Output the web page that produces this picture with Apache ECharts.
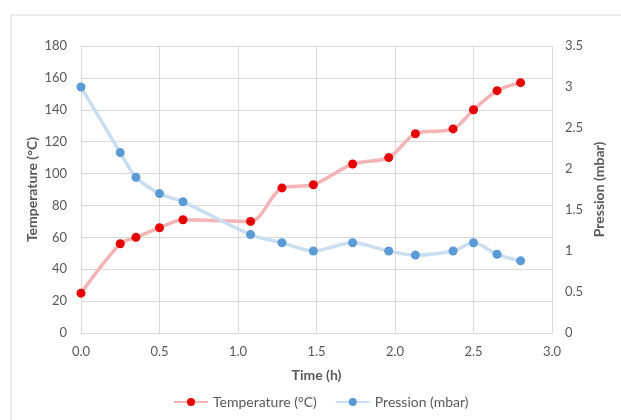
<!DOCTYPE html>
<html>
<head>
<meta charset="utf-8">
<script src="https://cdn.jsdelivr.net/npm/echarts@6/dist/echarts.min.js"></script>
<style>html,body{margin:0;padding:0;background:#fff}#c{width:621px;height:420px}</style>
</head>
<body>
<div id="c"></div>
<script>
const times = [0, 0.25, 0.35, 0.5, 0.65, 1.08, 1.28, 1.48, 1.73, 1.96, 2.13, 2.37, 2.5, 2.65, 2.8];
const temperature = [25, 56, 60, 66, 71, 70, 91, 93, 106, 110, 125, 128, 140, 152, 157];
const pression = [3.0, 2.2, 1.9, 1.7, 1.6, 1.2, 1.1, 1.0, 1.1, 1.0, 0.95, 1.0, 1.1, 0.96, 0.88];
const xTicks = [0, 0.5, 1.0, 1.5, 2.0, 2.5, 3.0];

const font = 'Lato, "Open Sans", sans-serif';
const chart = echarts.init(document.getElementById('c'), null, {renderer: 'canvas'});
chart.setOption({
  animation: false,
  textStyle: {fontFamily: font},
  graphic: [{type: 'rect', shape: {x: 11, y: 15, width: 700, height: 500}, style: {fill: 'none', stroke: '#d9d9d9', lineWidth: 1}, silent: true}],
  grid: {left: 81, right: 69, top: 46, bottom: 87},
  legend: {
    top: 390, left: 168, itemGap: 18, itemWidth: 34, itemHeight: 10,
    textStyle: {color: '#595959', fontSize: 14, fontFamily: font},
    data: ['Temperature (°C)', 'Pression (mbar)']
  },
  xAxis: {
    type: 'value', min: xTicks[0], max: xTicks[xTicks.length - 1], interval: 0.5,
    name: 'Time (h)', nameLocation: 'middle', nameGap: 35, nameMoveOverlap: false,
    nameTextStyle: {color: '#595959', fontWeight: 'bold', fontSize: 14, fontFamily: font},
    axisLine: {show: true, lineStyle: {color: '#d9d9d9'}},
    axisTick: {show: false},
    axisLabel: {color: '#595959', fontSize: 13, margin: 12, formatter: v => v.toFixed(1)},
    splitLine: {show: true, lineStyle: {color: '#d9d9d9'}}
  },
  yAxis: [{
    type: 'value', min: 0, max: 180, interval: 20,
    name: 'Temperature (°C)', nameLocation: 'middle', nameGap: 42, nameRotate: 90, nameMoveOverlap: false,
    nameTextStyle: {color: '#595959', fontWeight: 'bold', fontSize: 14, fontFamily: font},
    axisLine: {show: false}, axisTick: {show: false},
    axisLabel: {color: '#595959', fontSize: 13, margin: 14},
    splitLine: {show: true, lineStyle: {color: '#d9d9d9'}}
  }, {
    type: 'value', min: 0, max: 3.5, interval: 0.5, position: 'right',
    name: 'Pression (mbar)', nameLocation: 'middle', nameGap: 40, nameRotate: 90, nameMoveOverlap: false,
    nameTextStyle: {color: '#595959', fontWeight: 'bold', fontSize: 14, fontFamily: font},
    axisLine: {show: false}, axisTick: {show: false},
    axisLabel: {color: '#595959', fontSize: 13, margin: 13},
    splitLine: {show: false}
  }],
  series: [{
    name: 'Temperature (°C)', type: 'line', yAxisIndex: 0, smooth: 0.3,
    data: times.map((t, i) => [t, temperature[i]]),
    symbol: 'circle', symbolSize: 9,
    lineStyle: {color: '#f4b4b4', width: 3.5},
    itemStyle: {color: '#e60000'}
  }, {
    name: 'Pression (mbar)', type: 'line', yAxisIndex: 1, smooth: 0.3,
    data: times.map((t, i) => [t, pression[i]]),
    symbol: 'circle', symbolSize: 9,
    lineStyle: {color: '#c9def0', width: 3.5},
    itemStyle: {color: '#5b9bd5'}
  }]
});
</script>
</body>
</html>
